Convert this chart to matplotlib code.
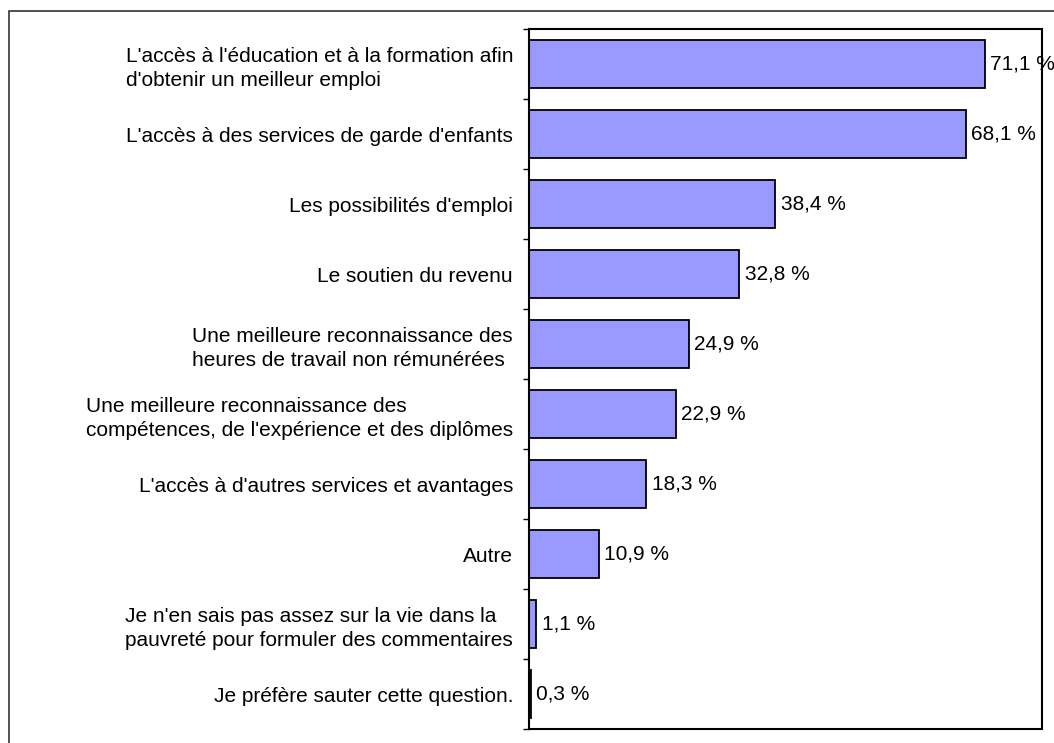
import matplotlib
matplotlib.use("Agg")
import matplotlib.pyplot as plt
import matplotlib.patches as patches
import numpy as np

plt.rcParams['font.family'] = ['Liberation Sans', 'DejaVu Sans']

categories = [
    "L'accès à l'éducation et à la formation afin\nd'obtenir un meilleur emploi",
    "L'accès à des services de garde d'enfants",
    "Les possibilités d'emploi",
    "Le soutien du revenu",
    "Une meilleure reconnaissance des\nheures de travail non rémunérées",
    "Une meilleure reconnaissance des\ncompétences, de l'expérience et des diplômes",
    "L'accès à d'autres services et avantages",
    "Autre",
    "Je n'en sais pas assez sur la vie dans la\npauvreté pour formuler des commentaires",
    "Je préfère sauter cette question.",
]
values = [71.1, 68.1, 38.4, 32.8, 24.9, 22.9, 18.3, 10.9, 1.1, 0.3]
value_labels = ["71,1 %", "68,1 %", "38,4 %", "32,8 %", "24,9 %",
                "22,9 %", "18,3 %", "10,9 %", "1,1 %", "0,3 %"]

W, H = 1054, 743
fig = plt.figure(figsize=(W / 100, H / 100), dpi=100)
ax = fig.add_axes([529 / W, 1 - 729 / H, (1042 - 529) / W, (729 - 29) / H])

y = np.arange(len(categories))
ax.barh(y, values, height=0.69, color='#9999FF', edgecolor='black', linewidth=1.3)

for yi, v, lab in zip(y, values, value_labels):
    ax.annotate(lab, (v, yi), xytext=(4, 0), textcoords='offset points',
                ha='left', va='center', fontsize=15, color='black',
                annotation_clip=False)

ax.set_xlim(0, 80)
ax.set_ylim(len(categories) - 0.5, -0.5)
ax.set_xticks([])

ax.set_yticks(y)
ax.set_yticklabels(categories, fontsize=15, linespacing=1.3)
for t in ax.get_yticklabels():
    t.set_multialignment('left')
ax.tick_params(axis='y', which='major', length=0, pad=11.5)
ax.set_yticks(np.arange(-0.5, len(categories)), minor=True)
ax.tick_params(axis='y', which='minor', length=4.3, width=1, direction='out', color='black')

for s in ax.spines.values():
    s.set_linewidth(1.5)
    s.set_color('black')

# outer chart frame (only left and top edges visible)
frame = patches.Rectangle((8.5 / W, -0.1), 1.2, 1 - 11 / H + 0.1,
                          transform=fig.transFigure, fill=False,
                          edgecolor='#333333', linewidth=1.2, clip_on=False)
fig.patches.append(frame)

fig.savefig("out.png", dpi=100)
